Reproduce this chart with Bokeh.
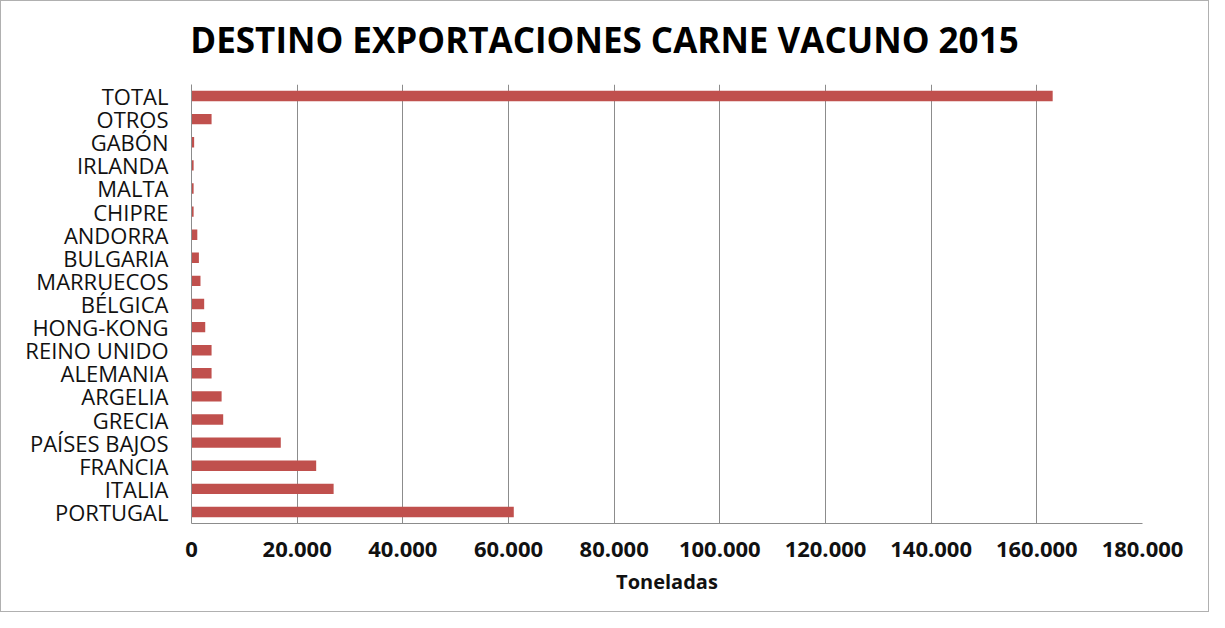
from bokeh.plotting import figure
from bokeh.layouts import column
from bokeh.models import Range1d, FactorRange, FixedTicker, CustomJSTickFormatter, Div, ColumnDataSource
from bokeh.embed import file_html
from bokeh.resources import INLINE

# Data (bottom to top)
paises = ["PORTUGAL", "ITALIA", "FRANCIA", "PAÍSES BAJOS", "GRECIA", "ARGELIA",
          "ALEMANIA", "REINO UNIDO", "HONG-KONG", "BÉLGICA", "MARRUECOS", "BULGARIA",
          "ANDORRA", "CHIPRE", "MALTA", "IRLANDA", "GABÓN", "OTROS", "TOTAL"]
toneladas = [61000, 26900, 23600, 16900, 6000, 5700,
             3800, 3800, 2600, 2400, 1700, 1400,
             1100, 400, 400, 400, 500, 3800, 163000]
ticks = list(range(0, 180001, 20000))

titulo = "DESTINO EXPORTACIONES CARNE VACUNO 2015"
eje_x = "Toneladas"

FONT = "Open Sans"
W = 1207
H = 610
TITLE_H = 75

src = ColumnDataSource(dict(pais=paises, t=toneladas))

p = figure(width=W, height=H - TITLE_H, output_backend="svg", toolbar_location=None,
           y_range=FactorRange(factors=paises), x_range=Range1d(0, 180000),
           min_border_left=190, min_border_right=66, min_border_top=8, min_border_bottom=88)
p.outline_line_color = None
p.background_fill_color = "white"
p.border_fill_color = "white"

p.hbar(y="pais", right="t", left=0, height=0.45, source=src, color="#C0504D", line_color=None)

p.xaxis.ticker = FixedTicker(ticks=ticks)
p.xaxis.formatter = CustomJSTickFormatter(code="return tick.toString().replace(/\\B(?=(\\d{3})+(?!\\d))/g, '.');")
p.xgrid.ticker = FixedTicker(ticks=ticks[1:])
p.xgrid.grid_line_color = "#8c8c8c"
p.ygrid.grid_line_color = None

for ax in (p.xaxis, p.yaxis):
    ax.axis_line_color = "#8c8c8c"
    ax.major_tick_line_color = None
    ax.minor_tick_line_color = None

p.yaxis.major_label_text_font = FONT
p.yaxis.major_label_text_font_size = "22px"
p.yaxis.major_label_text_color = "#111111"
p.yaxis.major_label_standoff = 17

p.xaxis.major_label_text_font = FONT
p.xaxis.major_label_text_font_size = "22px"
p.xaxis.major_label_text_font_style = "bold"
p.xaxis.major_label_text_color = "#111111"
p.xaxis.major_label_standoff = 12
p.xaxis.axis_label = eje_x
p.xaxis.axis_label_text_font = FONT
p.xaxis.axis_label_text_font_size = "20px"
p.xaxis.axis_label_text_font_style = "bold"
p.xaxis.axis_label_text_color = "#111111"
p.xaxis.axis_label_standoff = 8

div = Div(text=titulo, width=W, height=TITLE_H, margin=0,
          styles={"font-family": FONT, "font-size": "35px", "font-weight": "bold",
                  "line-height": "1", "text-align": "center", "color": "#000000",
                  "padding-top": "21px", "box-sizing": "border-box", "width": f"{W}px",
                  "background": "white"})

layout = column(div, p, spacing=0,
                styles={"border": "1px solid #b0b0b0", "background": "white"})

open("out.html", "w").write(file_html(layout, INLINE))
